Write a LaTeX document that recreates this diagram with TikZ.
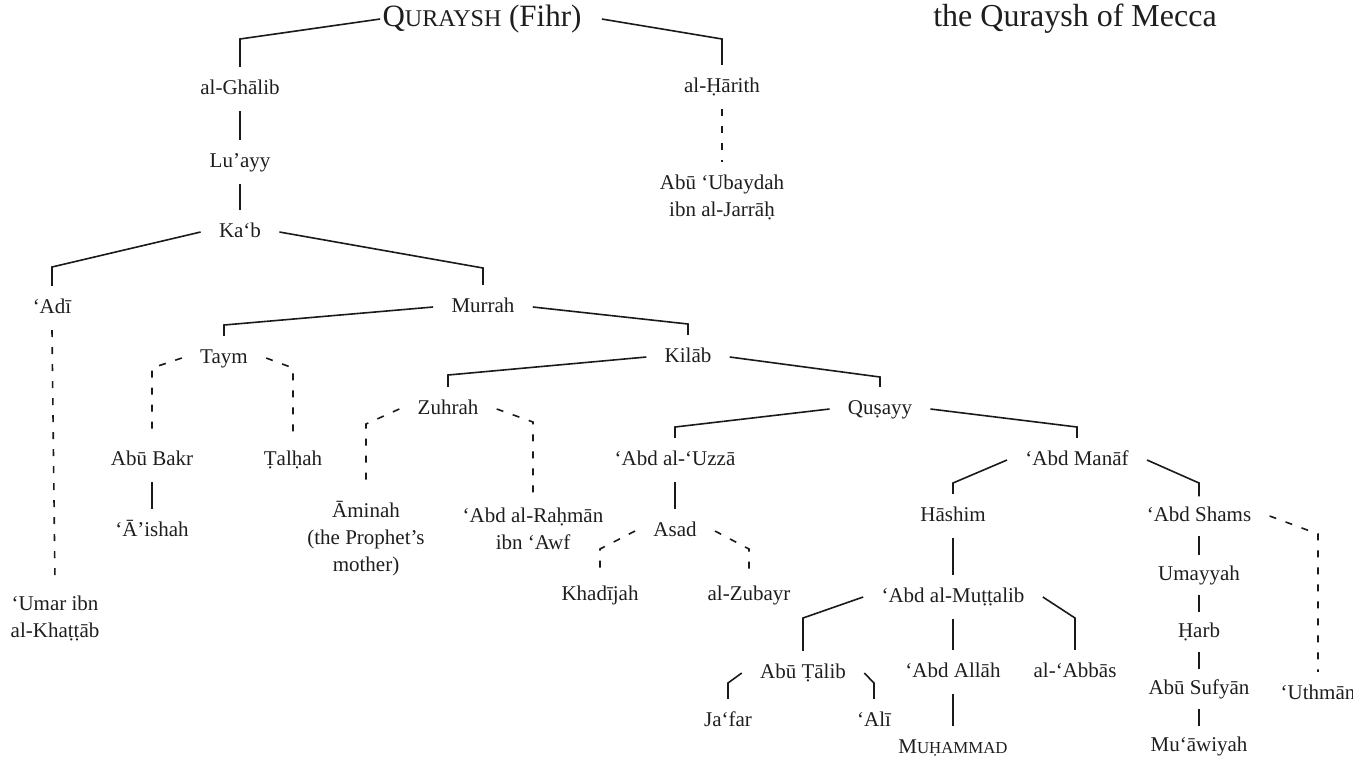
\documentclass[tikz,border=0pt]{standalone}
\usepackage{fontspec}
\setmainfont{Liberation Serif}
\usepackage{xcolor}
\usepackage{tikz}
\definecolor{ink}{HTML}{1E1E1E}
\definecolor{rule}{HTML}{1A1A1A}
\newcommand{\namefont}{\fontsize{10.5}{13.5}\selectfont}
\newcommand{\headfont}{\fontsize{15.5}{18}\selectfont}
\newcommand{\titlefont}{\fontsize{16}{19}\selectfont}
\tikzset{
  person/.style={text=ink, font=\namefont, inner xsep=9pt, inner ysep=6pt, text height=7.5pt, text depth=2.2pt},
  stacked/.style={person, inner ysep=4.8pt},
  twoline/.style={text=ink, font=\namefont, align=center, inner xsep=9pt, inner ysep=6.25pt},
  head/.style={text=ink, font=\headfont, inner xsep=1pt, inner ysep=2pt},
  link/.style={draw=rule, line width=0.8pt},
  dlink/.style={link, dash pattern=on 3.5pt off 5pt}
}

\begin{document}
\begin{tikzpicture}[x=0.5pt,y=-0.5pt]
  \useasboundingbox (0,0) rectangle (1353,757);

  \node[head] (quraysh) at (482,19) {Q{\fontsize{12}{14}\selectfont URAYSH} (Fihr)};
  \node[text=ink, font=\titlefont, inner sep=0pt] (title) at (1075,19) {the Quraysh of Mecca};

  % Fihr line
  \node[person] (ghalib) at (240,89) {al-Ghālib};
  \node[person] (luayy) at (240,162) {Lu’ayy};
  \node[person] (kab) at (240,232) {Ka‘b};
  \node[person] (harith) at (722,87) {al-Ḥārith};
  \node[twoline] (ubaydah) at (722,197) {Abū ‘Ubaydah\\ibn al-Jarrāḥ};

  % sons of Ka'b
  \node[person] (adi) at (52,308) {‘Adī};
  \node[twoline] (umar) at (55,618) {‘Umar ibn\\al-Khaṭṭāb};
  \node[person] (murrah) at (483,307) {Murrah};
  \node[person] (taym) at (224,358) {Taym};
  \node[person] (abubakr) at (152,460) {Abū Bakr};
  \node[person] (talhah) at (293,460) {Ṭalḥah};
  \node[person] (aishah) at (152,531) {‘Ā’ishah};
  \node[person] (kilab) at (688,357) {Kilāb};

  % Zuhrah and Qusayy
  \node[person] (zuhrah) at (448,409) {Zuhrah};
  \node[twoline] (aminah) at (366,539) {Āminah\\(the Prophet’s\\mother)};
  \node[twoline] (rahman) at (533,529) {‘Abd al-Raḥmān\\ibn ‘Awf};
  \node[person] (qusayy) at (880,409) {Quṣayy};
  \node[person] (uzza) at (675,460) {‘Abd al-‘Uzzā};
  \node[person] (asad) at (675,531) {Asad};
  \node[person] (khadijah) at (600,595) {Khadījah};
  \node[person] (zubayr) at (749,595) {al-Zubayr};

  % Abd Manaf
  \node[person] (manaf) at (1077,460) {‘Abd Manāf};
  \node[person] (hashim) at (953,516) {Hāshim};
  \node[person] (muttalib) at (953,597) {‘Abd al-Muṭṭalib};
  \node[person] (abutalib) at (803,673) {Abū Ṭālib};
  \node[person] (jafar) at (728,721) {Ja‘far};
  \node[person] (ali) at (874,721) {‘Alī};
  \node[person] (abdallah) at (953,672) {‘Abd Allāh};
  \node[person] (muhammad) at (953,748) {M{\fontsize{8.4}{10}\selectfont UḤAMMAD}};
  \node[person] (abbas) at (1075,672) {al-‘Abbās};
  \node[stacked] (shams) at (1199,516) {‘Abd Shams};
  \node[stacked] (umayyah) at (1199,575) {Umayyah};
  \node[stacked] (harb) at (1199,632) {Ḥarb};
  \node[stacked] (sufyan) at (1199,689) {Abū Sufyān};
  \node[stacked] (muawiyah) at (1199,746) {Mu‘āwiyah};
  \node[person] (uthman) at (1318,694) {‘Uthmān};

  % solid descent
  \draw[link] (quraysh.west) -- (ghalib.north |- 0,39) -- (ghalib.north);
  \draw[link] ([xshift=9pt]quraysh.east) -- (harith.north |- 0,39) -- (harith.north);
  \draw[link] (ghalib.south) -- (luayy.north);
  \draw[link] (luayy.south) -- (kab.north);
  \draw[link] (kab.west) -- (adi.north |- 0,267) -- (adi.north);
  \draw[link] (kab.east) -- (murrah.north |- 0,268) -- (murrah.north);
  \draw[link] (murrah.west) -- (taym.north |- 0,325) -- (taym.north);
  \draw[link] (murrah.east) -- (kilab.north |- 0,324) -- (kilab.north);
  \draw[link] (abubakr.south) -- (aishah.north);
  \draw[link] (kilab.west) -- (zuhrah.north |- 0,375) -- (zuhrah.north);
  \draw[link] (kilab.east) -- (qusayy.north |- 0,377) -- (qusayy.north);
  \draw[link] (qusayy.west) -- (uzza.north |- 0,427) -- (uzza.north);
  \draw[link] (qusayy.east) -- (manaf.north |- 0,427) -- (manaf.north);
  \draw[link] (uzza.south) -- (asad.north);
  \draw[link] (manaf.west) -- (hashim.north |- 0,483) -- (hashim.north);
  \draw[link] (manaf.east) -- (shams.north |- 0,483) -- (shams.north);
  \draw[link] (hashim.south) -- (muttalib.north);
  \draw[link] (muttalib.west) -- (abutalib.north |- 0,618) -- (abutalib.north);
  \draw[link] (muttalib.south) -- (abdallah.north);
  \draw[link] (muttalib.east) -- (abbas.north |- 0,618) -- (abbas.north);
  \draw[link] (abutalib.west) -- (jafar.north |- 0,683) -- (jafar.north);
  \draw[link] (abutalib.east) -- (ali.north |- 0,683) -- (ali.north);
  \draw[link] (abdallah.south) -- (muhammad.north);
  \draw[link] (shams.south) -- (umayyah.north);
  \draw[link] (umayyah.south) -- (harb.north);
  \draw[link] (harb.south) -- (sufyan.north);
  \draw[link] (sufyan.south) -- (muawiyah.north);

  % later descendants
  \draw[dlink] (harith.south) -- (ubaydah.north);
  \draw[dlink] (adi.south) -- (umar.north);
  \draw[dlink] (taym.west) -- (abubakr.north |- 0,368) -- (abubakr.north);
  \draw[dlink] (taym.east) -- (talhah.north |- 0,368) -- (talhah.north);
  \draw[dlink] (zuhrah.west) -- (aminah.north |- 0,424) -- (aminah.north);
  \draw[dlink] (zuhrah.east) -- (rahman.north |- 0,422) -- (rahman.north);
  \draw[dlink] (asad.west) -- (khadijah.north |- 0,549) -- (khadijah.north);
  \draw[dlink] (asad.east) -- (zubayr.north |- 0,549) -- (zubayr.north);
  \draw[dlink] (shams.east) -- (uthman.north |- 0,534) -- (uthman.north);
\end{tikzpicture}
\end{document}
